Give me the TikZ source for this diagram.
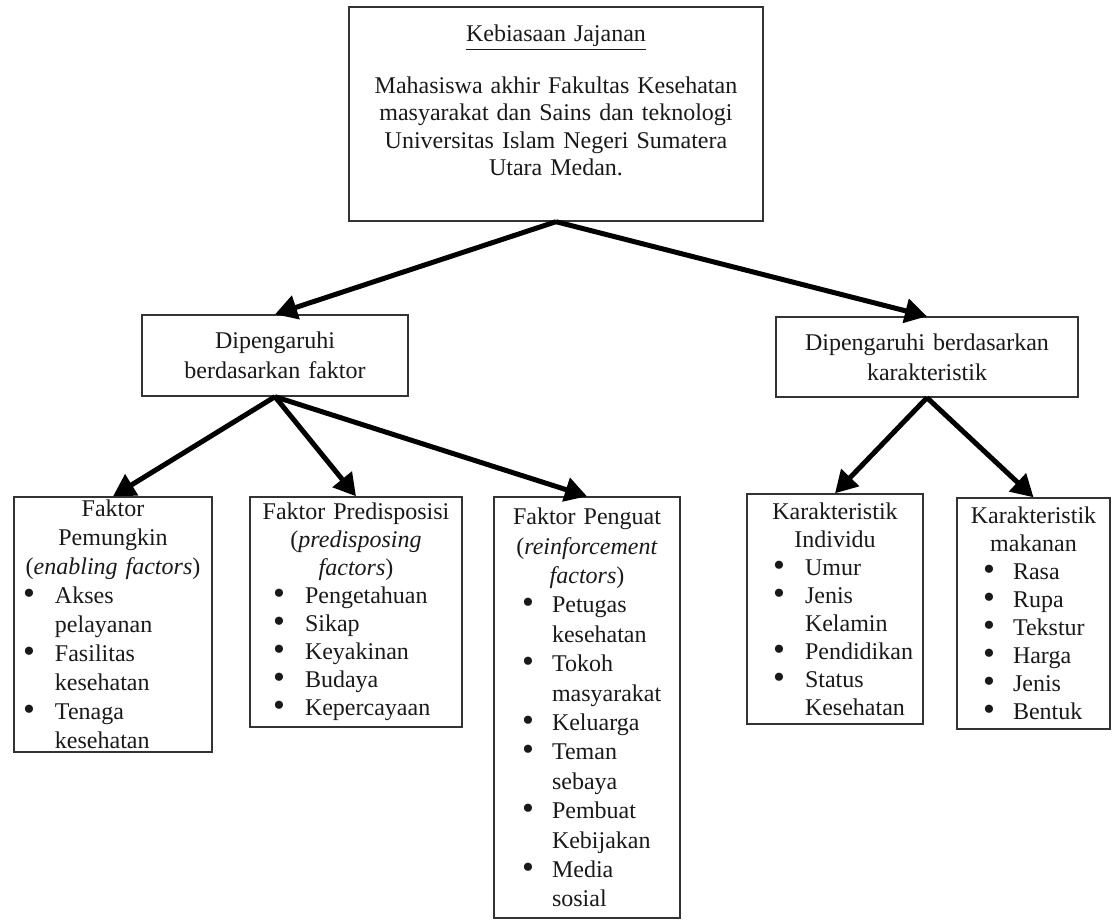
\documentclass[tikz,border=0pt]{standalone}
\usepackage{fontspec}
\setmainfont{Liberation Serif}
\usetikzlibrary{arrows.meta}

\newlength{\posbulet}
\newlength{\posteks}
\newcommand{\butir}[1]{\par\raggedright\hangindent=\posteks\hangafter=1\noindent\hspace*{\posbulet}\makebox[\dimexpr\posteks-\posbulet\relax][l]{\fontsize{17}{14}\selectfont\raisebox{-0.5pt}{\textbullet}}#1\par}

\begin{document}
\begin{tikzpicture}[x=0.5pt,y=-0.5pt,
  kotak/.style={draw=black!80,line width=0.7pt,inner xsep=0pt,inner ysep=1pt,text=black!90,font=\fontsize{12}{14}\selectfont},
  daftar/.style 2 args={execute at begin node={\setlength{\posbulet}{#1}\setlength{\posteks}{#2}}},
  panah/.style={line width=2.5pt,-{Triangle[length=11pt,width=12pt]}}]
\useasboundingbox (0,0) rectangle (1112,920);
%[top]
\path (556,114) node (kebiasaan) [kotak,align=center,text width=207pt,minimum height=107pt,font=\fontsize{12}{13.7}\selectfont] {\underline{Kebiasaan Jajanan}\\[12pt]Mahasiswa akhir Fakultas Kesehatan\\masyarakat dan Sains dan teknologi\\Universitas Islam Negeri Sumatera\\Utara Medan.\\\mbox{}};
%[middle]
\path (275,355.5) node (faktor) [kotak,align=center,text width=133pt,minimum height=40.5pt,font=\fontsize{12}{15}\selectfont] {Dipengaruhi\\berdasarkan faktor};
\path (927,357) node (karakter) [kotak,align=center,text width=151pt,minimum height=40pt,font=\fontsize{12}{15}\selectfont] {Dipengaruhi berdasarkan\\karakteristik};
%[bottom]
\path (113,624.5) node (pemungkin) [kotak,daftar={4.5pt}{20.5pt},text width=99pt,minimum height=127.5pt,font=\fontsize{12}{14.5}\selectfont] {\centering Faktor\\Pemungkin\\(\textit{enabling factors})
  \butir{Akses\newline pelayanan}
  \butir{Fasilitas\newline kesehatan}
  \butir{Tenaga\newline kesehatan}};
\path (356,612) node (predisposisi) [kotak,daftar={11.5pt}{27.5pt},text width=106pt,minimum height=115pt] {\centering Faktor Predisposisi\\(\textit{predisposing}\\\textit{factors})
  \butir{Pengetahuan}
  \butir{Sikap}
  \butir{Keyakinan}
  \butir{Budaya}
  \butir{Kepercayaan}};
\path (587,707.5) node (penguat) [kotak,daftar={14pt}{29pt},text width=93pt,minimum height=210.5pt,font=\fontsize{12}{14.7}\selectfont] {\centering Faktor Penguat\\(\textit{reinforcement}\\\textit{factors})
  \butir{Petugas\newline kesehatan}
  \butir{Tokoh\newline masyarakat}
  \butir{Keluarga}
  \butir{Teman\newline sebaya}
  \butir{Pembuat\newline Kebijakan}
  \butir{Media\newline sosial}};
\path (835,609) node (individu) [kotak,daftar={13pt}{29pt},text width=88pt,minimum height=115pt] {\centering Karakteristik\\Individu
  \butir{Umur}
  \butir{Jenis\newline Kelamin}
  \butir{Pendidikan}
  \butir{Status\newline Kesehatan}};
\path (1033.5,613.5) node (makanan) [kotak,daftar={13pt}{28pt},text width=76.5pt,minimum height=115.5pt] {\centering Karakteristik\\makanan
  \butir{Rasa}
  \butir{Rupa}
  \butir{Tekstur}
  \butir{Harga}
  \butir{Jenis}
  \butir{Bentuk}};

\draw [panah] (kebiasaan.south) to (faktor.north);
\draw [panah] (kebiasaan.south) to (karakter.north);
\draw [panah] (faktor.south) to (pemungkin.north);
\draw [panah] (faktor.south) to (predisposisi.north);
\draw [panah] (faktor.south) to (penguat.north);
\draw [panah] (karakter.south) to (individu.north);
\draw [panah] (karakter.south) to (makanan.north);
\end{tikzpicture}
\end{document}
